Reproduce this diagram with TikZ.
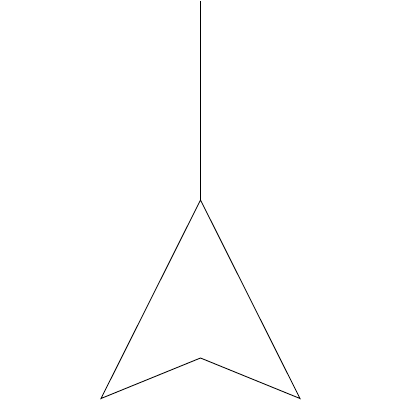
\documentclass[tikz,border=0pt]{standalone}
\usetikzlibrary{positioning}
\tikzset{%
	stem/.style={line width=0.6pt},
	head/.style={line width=0.6pt, line join=miter}
}
\begin{document}
\begin{tikzpicture}[x=0.025cm, y=-0.025cm]
	\useasboundingbox (0,0) rectangle (400,400);

	\coordinate (top)   at (200.5,1);
	\coordinate (apex)  at (200.5,200);
	\coordinate (left)  at (101,398.5);
	\coordinate (notch) at (200.5,358);
	\coordinate (right) at (300,398.5);

	\draw[stem] (top) -- (apex);
	\draw[head] (apex) -- (left) -- (notch) -- (right) -- cycle;
\end{tikzpicture}
\end{document}
